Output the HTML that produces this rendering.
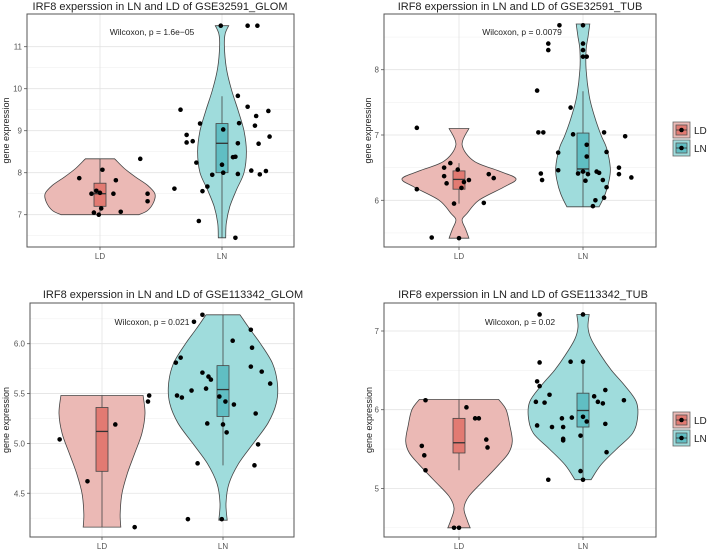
<!DOCTYPE html>
<html><head><meta charset="utf-8"><style>
body{margin:0;background:#fff;}
svg{display:block;font-family:"Liberation Sans",sans-serif;}
</style></head><body>
<svg id="chart" width="708" height="549" viewBox="0 0 708 549"></svg>
<script>
const categories = ["LD","LN"];
// Panel 1: GSE32591_GLOM
const p1Ticks = [7,8,9,10,11];
const p1LdViolin = [[7.0,0.32],[7.1,0.39],[7.3,0.44],[7.5,0.45],[7.7,0.39],[7.9,0.29],[8.1,0.2],[8.33,0.12]];
const p1LnViolin = [[6.45,0.03],[6.8,0.035],[7.2,0.065],[7.6,0.12],[8.0,0.18],[8.5,0.2],[9.0,0.18],[9.5,0.13],[10,0.075],[10.5,0.035],[11,0.02],[11.3,0.025],[11.5,0.055]];
const p1LdBox = [7.0,7.2,7.5,7.75,8.33];
const p1LnBox = [6.45,8.0,8.7,9.17,9.82];
const p1LdDots = [[-0.17,7.87],[0.33,8.33],[0.02,8.07],[0.13,7.82],[-0.07,7.5],[-0.03,7.57],[0,7.52],[0.11,7.5],[0.39,7.5],[0.39,7.32],[0.01,7.15],[-0.05,7.05],[-0.01,7.0],[0.17,7.07]];
const p1LnDots = [[-0.01,11.5],[0.21,11.5],[0.29,11.5],[-0.34,9.5],[0.13,9.83],[0.21,9.57],[0.38,9.47],[0.28,9.35],[-0.18,9.17],[0.14,9.18],[0.01,9.03],[0.27,9.12],[-0.29,8.9],[0.39,8.86],[-0.29,8.72],[-0.24,8.75],[0.13,8.7],[0.30,8.69],[0.09,8.37],[0.11,8.38],[-0.21,8.24],[0,8.19],[0.01,8.0],[0.24,8.05],[0.36,8.04],[-0.08,7.95],[0.13,7.97],[0.31,7.96],[-0.12,7.67],[-0.16,7.56],[-0.39,7.62],[-0.19,6.85],[0.11,6.45]];
// Panel 2: GSE32591_TUB
const p2Ticks = [6,7,8];
const p2LdViolin = [[5.42,0.08],[5.55,0.055],[5.7,0.025],[5.8,0.065],[6.0,0.16],[6.2,0.36],[6.33,0.46],[6.45,0.32],[6.6,0.12],[6.85,0.025],[7.1,0.08]];
const p2LnViolin = [[5.9,0.13],[6.1,0.18],[6.3,0.21],[6.5,0.22],[6.8,0.19],[7.0,0.145],[7.3,0.09],[7.6,0.05],[8.0,0.025],[8.3,0.025],[8.5,0.04],[8.7,0.055]];
const p2LdBox = [5.95,6.17,6.32,6.45,6.57];
const p2LnBox = [5.9,6.43,6.48,7.03,7.67];
const p2LdDots = [[-0.34,7.11],[-0.12,6.5],[-0.12,6.37],[-0.1,6.26],[-0.07,6.57],[-0.34,6.17],[-0.01,6.47],[0.04,6.28],[0.08,6.31],[0.02,6.19],[-0.04,5.95],[0.24,6.4],[0.28,6.34],[0.2,5.96],[-0.22,5.43],[0,5.42]];
const p2LnDots = [[-0.19,8.68],[0,8.68],[-0.28,8.4],[-0.28,8.3],[0,8.4],[0,8.3],[0,8.2],[0.03,8.2],[-0.37,7.68],[-0.1,7.42],[-0.36,7.04],[-0.32,7.04],[-0.08,7.01],[0.17,7.04],[0.34,6.98],[0.03,6.85],[0.03,6.67],[-0.2,6.73],[0.19,6.74],[-0.2,6.46],[-0.34,6.41],[-0.33,6.31],[-0.04,6.41],[0,6.44],[0.04,6.4],[0.02,6.3],[0.11,6.44],[0.13,6.42],[0.16,6.31],[0.19,6.2],[0.29,6.5],[0.29,6.4],[0.39,6.35],[0.1,6.0],[0.17,6.04],[0.08,5.91]];
// Panel 3: GSE113342_GLOM
const p3Ticks = [4.5,5.0,5.5,6.0];
const p3LdViolin = [[4.16,0.155],[4.3,0.15],[4.5,0.165],[4.7,0.21],[4.9,0.27],[5.1,0.33],[5.3,0.355],[5.48,0.34]];
const p3LnViolin = [[4.23,0.035],[4.4,0.025],[4.6,0.05],[4.8,0.13],[5.0,0.25],[5.2,0.37],[5.4,0.44],[5.6,0.45],[5.8,0.41],[6.0,0.31],[6.15,0.22],[6.29,0.14]];
const p3LdBox = [4.16,4.72,5.12,5.36,5.48];
const p3LnBox = [4.78,5.27,5.54,5.78,6.29];
const p3LdDots = [[-0.35,5.04],[-0.12,4.62],[0.11,5.19],[0.39,5.48],[0.38,5.42],[0.27,4.16]];
const p3LnDots = [[-0.17,6.29],[-0.24,6.22],[0.23,6.14],[0.08,6.03],[0.24,5.96],[-0.35,5.86],[-0.39,5.81],[0.23,5.77],[0.32,5.72],[-0.17,5.71],[-0.12,5.67],[-0.1,5.64],[0.39,5.6],[-0.14,5.55],[-0.26,5.53],[-0.38,5.48],[-0.34,5.46],[-0.03,5.47],[0.02,5.42],[0.09,5.39],[0.27,5.3],[-0.13,5.2],[0,5.19],[0.03,5.11],[0.29,4.99],[-0.21,4.8],[0.26,4.78],[-0.29,4.24],[-0.01,4.24]];
// Panel 4: GSE113342_TUB
const p4Ticks = [5,6,7];
const p4LdViolin = [[4.5,0.09],[4.6,0.065],[4.75,0.04],[4.9,0.08],[5.1,0.2],[5.3,0.32],[5.45,0.4],[5.6,0.43],[5.8,0.41],[6.0,0.38],[6.13,0.32]];
const p4LnViolin = [[5.11,0.065],[5.3,0.145],[5.5,0.27],[5.7,0.40],[5.9,0.44],[6.1,0.43],[6.3,0.34],[6.5,0.23],[6.7,0.14],[6.9,0.065],[7.05,0.04],[7.21,0.05]];
const p4LdBox = [5.23,5.45,5.58,5.89,6.13];
const p4LnBox = [5.11,5.78,5.99,6.21,6.62];
const p4LdDots = [[-0.27,6.12],[0.06,6.03],[0.13,5.89],[0.16,5.89],[-0.3,5.54],[-0.28,5.42],[0.22,5.62],[0.23,5.52],[-0.27,5.23],[-0.04,4.5],[0,4.5]];
const p4LnDots = [[-0.35,7.21],[0,7.21],[-0.35,6.6],[-0.1,6.61],[0,6.61],[-0.37,6.36],[-0.35,6.3],[-0.27,6.19],[-0.38,6.1],[-0.31,6.09],[0.09,6.17],[0.18,6.25],[0.12,6.1],[0.16,6.08],[0.33,6.12],[-0.37,5.8],[-0.25,5.78],[-0.17,5.89],[-0.16,5.78],[-0.09,5.9],[0,5.91],[0.03,5.85],[0.18,5.82],[-0.16,5.63],[-0.16,5.61],[-0.02,5.67],[0.19,5.46],[-0.28,5.11],[-0.02,5.22],[0,5.11]];

const NS="http://www.w3.org/2000/svg";
const svg=document.getElementById('chart');
function mk(tag,attrs,parent){const e=document.createElementNS(NS,tag);for(const k in attrs)e.setAttribute(k,attrs[k]);(parent||svg).appendChild(e);return e;}
function txt(s,attrs,parent){const e=mk('text',attrs,parent);e.textContent=s;return e;}

const panels=[
 {id:'p1',title:'IRF8 experssion in LN and LD of GSE32591_GLOM',L:27,R:294,T:14,B:247,y0v:7,y0p:214.7,k:42,ticks:p1Ticks,fmt:0,cx:[100,222],minor:[6.5,7.5,8.5,9.5,10.5],ld:p1LdViolin,ln:p1LnViolin,ldb:p1LdBox,lnb:p1LnBox,ldd:p1LdDots,lnd:p1LnDots,wil:'Wilcoxon, p = 1.6e\u221205',wx:152,wy:35,tx:160,ty:10,yx:9,legend:false},
 {id:'p2',title:'IRF8 experssion in LN and LD of GSE32591_TUB',L:384,R:656,T:14,B:247,y0v:6,y0p:200.3,k:65.3,ticks:p2Ticks,fmt:0,cx:[459,583],minor:[5.5,6.5,7.5,8.5],ld:p2LdViolin,ln:p2LnViolin,ldb:p2LdBox,lnb:p2LnBox,ldd:p2LdDots,lnd:p2LnDots,wil:'Wilcoxon, p = 0.0079',wx:522,wy:35,tx:520,ty:10,yx:371,legend:122},
 {id:'p3',title:'IRF8 experssion in LN and LD of GSE113342_GLOM',L:30,R:294,T:303,B:537,y0v:6,y0p:343.7,k:99.7,ticks:p3Ticks,fmt:1,cx:[102,223],minor:[4.25,4.75,5.25,5.75,6.25],ld:p3LdViolin,ln:p3LnViolin,ldb:p3LdBox,lnb:p3LnBox,ldd:p3LdDots,lnd:p3LnDots,wil:'Wilcoxon, p = 0.021',wx:152,wy:325,tx:173,ty:298,yx:9,legend:false},
 {id:'p4',title:'IRF8 experssion in LN and LD of GSE113342_TUB',L:384,R:656,T:303,B:537,y0v:7,y0p:331,k:78.7,ticks:p4Ticks,fmt:0,cx:[459,583],minor:[4.5,5.5,6.5],ld:p4LdViolin,ln:p4LnViolin,ldb:p4LdBox,lnb:p4LnBox,ldd:p4LdDots,lnd:p4LnDots,wil:'Wilcoxon, p = 0.02',wx:520,wy:325,tx:523,ty:298,yx:372,legend:412}
];
const fills={LD:['#ebb9b5','#e27a72'],LN:['#9fdcdc','#60bec3']};

function smoothSide(pts){
  // Catmull-Rom to cubic bezier, starting at pts[0] (assumes already moved there)
  let d='';
  for(let i=0;i<pts.length-1;i++){
    const p0=pts[Math.max(0,i-1)],p1=pts[i],p2=pts[i+1],p3=pts[Math.min(pts.length-1,i+2)];
    const c1=[p1[0]+(p2[0]-p0[0])/6,p1[1]+(p2[1]-p0[1])/6];
    const c2=[p2[0]-(p3[0]-p1[0])/6,p2[1]-(p3[1]-p1[1])/6];
    d+='C'+c1[0].toFixed(1)+','+c1[1].toFixed(1)+' '+c2[0].toFixed(1)+','+c2[1].toFixed(1)+' '+p2[0].toFixed(1)+','+p2[1].toFixed(1);
  }
  return d;
}
function violinPath(prof,cx,y,sp){
  const right=prof.map(p=>[cx+p[1]*sp,y(p[0])]);
  const left=prof.slice().reverse().map(p=>[cx-p[1]*sp,y(p[0])]);
  return 'M'+right[0][0].toFixed(1)+','+right[0][1].toFixed(1)+smoothSide(right)+
    'L'+left[0][0].toFixed(1)+','+left[0][1].toFixed(1)+smoothSide(left)+'Z';
}

panels.forEach(P=>{
  const g=mk('g',{});
  
  
  const y=v=>P.y0p-(v-P.y0v)*P.k;
  const sp=P.cx[1]-P.cx[0];
  const xs=i=>P.cx[i];
  mk('rect',{x:P.L,y:P.T,width:P.R-P.L,height:P.B-P.T,fill:'#fff'},g);
  P.minor.forEach(v=>{const yy=y(v);if(yy>P.T&&yy<P.B){const l=mk('line',{x1:P.L,x2:P.R,y1:yy,y2:yy,stroke:'#f1f1f1','stroke-width':0.6},g);}});
  P.ticks.forEach(v=>{const l=mk('line',{x1:P.L,x2:P.R,y1:y(v),y2:y(v),stroke:'#e3e3e3','stroke-width':0.8},g);});
  categories.forEach((c,i)=>{const l=mk('line',{x1:xs(i),x2:xs(i),y1:P.T,y2:P.B,stroke:'#e3e3e3','stroke-width':0.8},g);});
  [[P.ld,P.ldb,P.ldd,'LD',0],[P.ln,P.lnb,P.lnd,'LN',1]].forEach(([prof,box,dots,c,i])=>{
    const cx=xs(i);
    const v=mk('path',{d:violinPath(prof,cx,y,sp),fill:fills[c][0],stroke:'#444','stroke-width':0.8},g);
    
    
    const w=mk('line',{x1:cx,x2:cx,y1:y(box[0]),y2:y(box[4]),stroke:'#444','stroke-width':0.8},g);
    
    
    const b=mk('rect',{x:cx-6,y:y(box[3]),width:12,height:y(box[1])-y(box[3]),fill:fills[c][1],stroke:'#444','stroke-width':0.8},g);
    
    
    const m=mk('line',{x1:cx-6,x2:cx+6,y1:y(box[2]),y2:y(box[2]),stroke:'#333','stroke-width':1.3},g);
    
    
    dots.forEach(d=>{const ci=mk('circle',{cx:cx+d[0]*sp,cy:y(d[1]),r:2.3,fill:'#000'},g);
      
      });
  });
  const fr=mk('rect',{x:P.L,y:P.T,width:P.R-P.L,height:P.B-P.T,fill:'none',stroke:'#555','stroke-width':1},g);
  
  
  P.ticks.forEach(v=>{
    mk('line',{x1:P.L-3,x2:P.L,y1:y(v),y2:y(v),stroke:'#555','stroke-width':0.8},g);
    const t=txt(P.fmt?v.toFixed(1):String(v),{x:P.L-5,y:y(v)+3,'text-anchor':'end','font-size':8,fill:'#555'},g);
    
    
  });
  categories.forEach((c,i)=>{
    mk('line',{x1:xs(i),x2:xs(i),y1:P.B,y2:P.B+3,stroke:'#555','stroke-width':0.8},g);
    const t=txt(c,{x:xs(i),y:P.B+12,'text-anchor':'middle','font-size':8,fill:'#555'},g);
    
    
  });
  const ti=txt(P.title,{x:P.tx,y:P.ty,'text-anchor':'middle','font-size':11,fill:'#222'},g);
  
  
  const wl=txt(P.wil,{x:P.wx,y:P.wy,'text-anchor':'middle','font-size':8.5,fill:'#222'},g);
  
  
  const cy=(P.T+P.B)/2;
  const yt=txt('gene expression',{x:P.yx,y:cy,'text-anchor':'middle','font-size':9,fill:'#222',transform:'rotate(-90 '+P.yx+' '+cy+')'},g);
  
  
  if(P.legend){
    categories.forEach((c,i)=>{
      const ly=P.legend+i*18;
      const lg=mk('g',{},g);
      
      
      mk('rect',{x:673,y:ly,width:17,height:16,fill:fills[c][0],stroke:'#666','stroke-width':0.8},lg);
      mk('rect',{x:676,y:ly+3,width:11,height:10,fill:fills[c][1],stroke:'#555','stroke-width':0.8},lg);
      mk('line',{x1:676,x2:687,y1:ly+8,y2:ly+8,stroke:'#333','stroke-width':0.8},lg);
      mk('circle',{cx:681.5,cy:ly+8,r:2.3,fill:'#000'},lg);
      txt(c,{x:694,y:ly+12,'font-size':10,fill:'#222'},lg);
    });
  }
});
</script>
</body></html>
